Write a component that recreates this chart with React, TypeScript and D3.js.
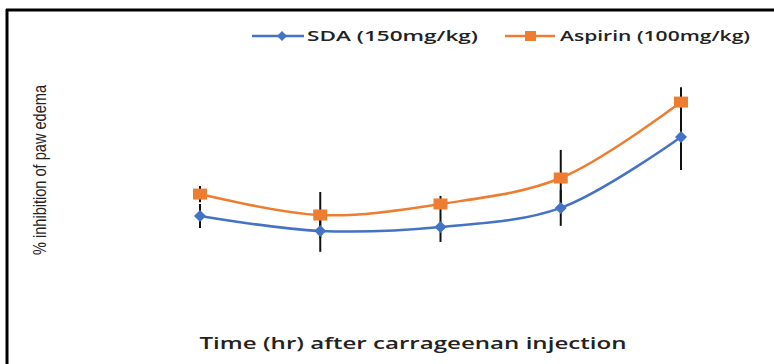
import React from 'react';
import * as d3 from 'd3';

const hours = ['1', '2', '3', '4', '5'];
const sdaValues = [32.2, 25.7, 27.4, 35.7, 66.5];
const sdaErrors = [5.2, 9.1, 6.5, 7.8, 14.3];
const aspirinValues = [41.7, 32.6, 37.4, 48.7, 81.7];
const aspirinErrors = [3.5, 10.0, 3.5, 12.2, 6.5];

const W = 774;
const H = 364;
const BLUE = '#4472C4';
const ORANGE = '#ED7D31';

export default function App() {
    const x = d3.scalePoint().domain(hours).range([200, 681]);
    const y = d3.scaleLinear().domain([0, 100]).range([290, 60]);

    const line = d3.line<number>()
        .x((d, i) => x(hours[i])!)
        .y(d => y(d))
        .curve(d3.curveCatmullRom.alpha(0.5));

    const errorBars = (vals: number[], errs: number[]) =>
        vals.map((v, i) => (
            <line key={i} x1={x(hours[i])} x2={x(hours[i])}
                y1={y(v - errs[i])} y2={y(v + errs[i])}
                stroke="#111" strokeWidth={2} />
        ));

    const diamond = (cx: number, cy: number, r: number) =>
        `M${cx},${cy - r}L${cx + r},${cy}L${cx},${cy + r}L${cx - r},${cy}Z`;

    return (
        <svg width={W} height={H} style={{ position: 'absolute', left: 0, top: 0, background: '#fff' }}>
            {/* frame: only top and left edges are visible */}
            <line x1={6} x2={W} y1={10} y2={10} stroke="#000" strokeWidth={3} />
            <line x1={7} x2={7} y1={9} y2={H} stroke="#000" strokeWidth={3} />

            {/* legend */}
            <g fontFamily="Open Sans" fontWeight={600} fontSize={14} fill="#222">
                <line x1={252} x2={304} y1={36} y2={36} stroke={BLUE} strokeWidth={2.5} />
                <path d={diamond(282, 36, 5)} fill={BLUE} />
                <text x={307} y={41} textLength={171} lengthAdjust="spacingAndGlyphs">SDA (150mg/kg)</text>
                <line x1={505} x2={555} y1={36} y2={36} stroke={ORANGE} strokeWidth={2.5} />
                <rect x={525} y={31} width={11} height={10} fill={ORANGE} />
                <text x={560} y={41} textLength={190} lengthAdjust="spacingAndGlyphs">Aspirin (100mg/kg)</text>
            </g>

            {/* error bars */}
            {errorBars(sdaValues, sdaErrors)}
            {errorBars(aspirinValues, aspirinErrors)}

            {/* series */}
            <path d={line(sdaValues)!} fill="none" stroke={BLUE} strokeWidth={2.5} />
            <path d={line(aspirinValues)!} fill="none" stroke={ORANGE} strokeWidth={2.5} />
            {sdaValues.map((v, i) => (
                <path key={i} d={diamond(x(hours[i])!, y(v), 6)} fill={BLUE} />
            ))}
            {aspirinValues.map((v, i) => (
                <rect key={i} x={x(hours[i])! - 7} y={y(v) - 5.5} width={14} height={11} fill={ORANGE} />
            ))}

            {/* axis titles */}
            <text transform="translate(46,170) rotate(-90)" textAnchor="middle"
                fontFamily="Liberation Sans" fontSize={18} fill="#222"
                textLength={170} lengthAdjust="spacingAndGlyphs">% inhibition of paw edema</text>
            <text x={413} y={349} textAnchor="middle" fontFamily="Open Sans" fontWeight={600}
                fontSize={17} fill="#222" textLength={427} lengthAdjust="spacingAndGlyphs">
                Time (hr) after carrageenan injection
            </text>
        </svg>
    );
}
